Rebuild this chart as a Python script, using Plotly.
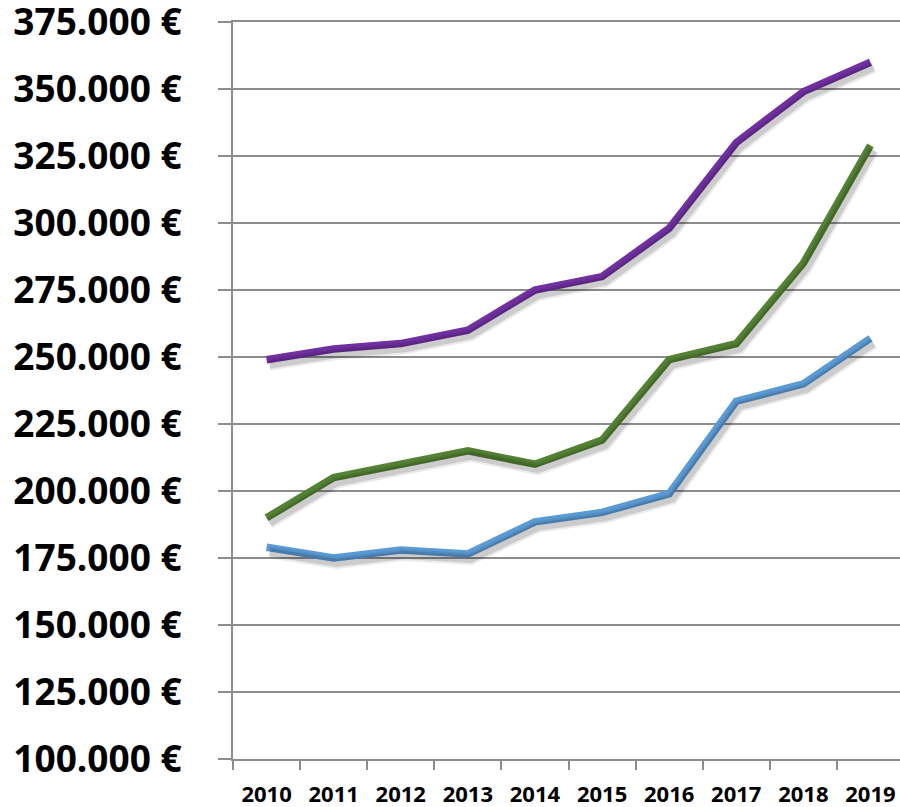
import plotly.graph_objects as go

years = ["2010", "2011", "2012", "2013", "2014", "2015", "2016", "2017", "2018", "2019"]
purple_vals = [249000, 253000, 255000, 260000, 275000, 280000, 298000, 330000, 349000, 360000]
green_vals = [190000, 205000, 210000, 215000, 210000, 219000, 249000, 255000, 285000, 329000]
blue_vals = [179000, 175000, 178000, 176500, 188500, 192000, 199000, 233500, 240000, 257000]

y_ticks = [100000 + 25000 * i for i in range(12)]
y_tick_text = [f"{v // 1000}.000 €" for v in y_ticks]

series = [
    (purple_vals, "#7030A0"),
    (green_vals, "#548235"),
    (blue_vals, "#5B9BD5"),
]

W, H = 900, 807
ML, MR, MT, MB = 233, 0, 22, 48
plot_w = W - ML - MR
plot_h = H - MT - MB
cat_px = 67.1
x_range = [-0.5, -0.5 + plot_w / cat_px]
y_range = [100000, 375000]
val_per_px = (y_range[1] - y_range[0]) / plot_h

# shadow offset (px)
dx, dy = 3, 5
x_range_sh = [x_range[0] - dx / cat_px, x_range[1] - dx / cat_px]
y_range_sh = [y_range[0] + dy * val_per_px, y_range[1] + dy * val_per_px]

fig = go.Figure()

# shadows
for vals, _ in series:
    for wdt, alpha in [(12, 0.08), (8, 0.13)]:
        fig.add_trace(go.Scatter(
            x=years, y=vals, mode="lines", xaxis="x2", yaxis="y2",
            line=dict(color=f"rgba(0,0,0,{alpha})", width=wdt),
            hoverinfo="skip", showlegend=False))

for vals, col in series:
    fig.add_trace(go.Scatter(
        x=years, y=vals, mode="lines",
        line=dict(color=col, width=7.5), showlegend=False))

grid_col = "#8C8C8C"
fig.update_layout(
    width=W, height=H,
    margin=dict(l=ML, r=MR, t=MT, b=MB),
    plot_bgcolor="white", paper_bgcolor="white",
    xaxis=dict(
        type="category", range=x_range, showgrid=False, automargin=False,
        showline=True, linecolor=grid_col, linewidth=2, mirror=True,
        ticks="outside", tickson="boundaries", ticklen=9, tickwidth=2, tickcolor=grid_col,
        tickfont=dict(family="Open Sans", size=22, color="black", weight="bold"),
        ticklabelstandoff=15,
    ),
    yaxis=dict(
        range=y_range, tickvals=y_ticks, ticktext=y_tick_text, automargin=False,
        ticklabeloverflow="allow",
        showgrid=True, gridcolor=grid_col, gridwidth=2, zeroline=False,
        showline=True, linecolor=grid_col, linewidth=2,
        ticks="outside", ticklen=13, tickwidth=2, tickcolor=grid_col,
        tickfont=dict(family="Open Sans", size=37, color="black", weight="bold"),
        ticklabelstandoff=29,
    ),
    xaxis2=dict(type="category", range=x_range_sh, overlaying="x", visible=False,
                categoryarray=years),
    yaxis2=dict(range=y_range_sh, overlaying="y", visible=False),
)

fig.write_html(
    "out.html",
    config={"displayModeBar": False},
    post_script="document.body.style.margin='0';document.body.style.overflow='hidden';",
)
